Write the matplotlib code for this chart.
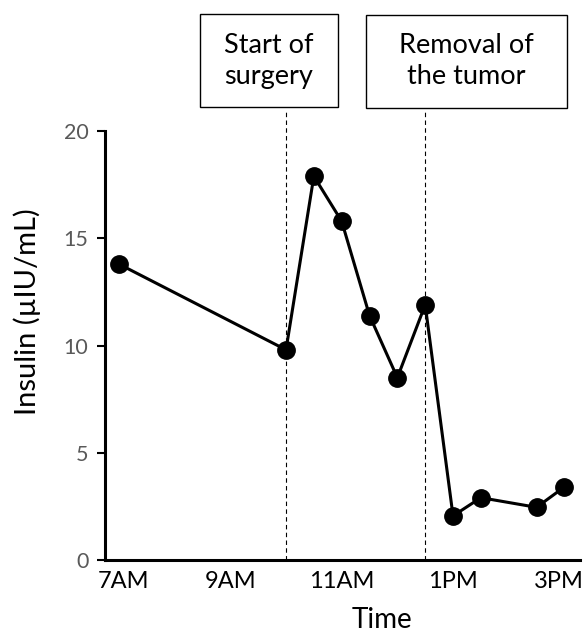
import matplotlib.pyplot as plt
import matplotlib.transforms as mtransforms
from matplotlib.patches import Rectangle

plt.rcParams['font.family'] = ['Lato', 'DejaVu Sans']

# hours of day (decimal) and insulin values
hours = [7.0, 10.0, 10.5, 11.0, 11.5, 12.0, 12.5, 13.0, 13.5, 14.5, 15.0]
insulin = [13.8, 9.8, 17.9, 15.8, 11.4, 8.5, 11.9, 2.05, 2.9, 2.45, 3.4]

tick_hours = [7, 9, 11, 13, 15]
tick_labels = ["7AM", "9AM", "11AM", "1PM", "3PM"]
y_ticks = [0, 5, 10, 15, 20]

events = [10.0, 12.5]
event_labels = ["Start of\nsurgery", "Removal of\nthe tumor"]

fig = plt.figure(figsize=(5.87, 6.34), dpi=100)
ax = fig.add_axes([0.179, 0.117, 0.809, 0.676])

ax.plot(hours, insulin, color="black", lw=2.2, marker="o", ms=12.5, zorder=3)

for h in events:
    ax.plot([h, h], [0, 20.95], color="black", lw=0.8, ls=(0, (4, 3)), clip_on=False, zorder=1)

ax.set_xlim(6.75, 15.28)
ax.set_ylim(0, 20)
ax.set_xticks(tick_hours)
ax.set_xticklabels(tick_labels, fontsize=17)
ax.set_yticks(y_ticks)
ax.set_yticklabels([str(v) for v in y_ticks], fontsize=15.5, color="#595959")
ax.tick_params(axis="x", length=0, pad=8)
ax.tick_params(axis="y", length=6, width=1.5, direction="out", pad=6)

# nudge first/last x labels like the original (keeps 3PM inside the figure)
lbls = ax.get_xticklabels()
lbls[0].set_transform(lbls[0].get_transform() + mtransforms.ScaledTranslation(5 / 100, 0, fig.dpi_scale_trans))
lbls[-1].set_transform(lbls[-1].get_transform() + mtransforms.ScaledTranslation(-6 / 100, 0, fig.dpi_scale_trans))

for side in ["top", "right"]:
    ax.spines[side].set_visible(False)
for side in ["left", "bottom"]:
    ax.spines[side].set_linewidth(2.2)

ax.set_xlabel("Time", fontsize=20)
ax.xaxis.set_label_coords(0.583, -0.11)
ax.set_ylabel("Insulin (µIU/mL)", fontsize=21)
ax.yaxis.set_label_coords(-0.135, 0.578)

# annotation boxes (figure fractions)
boxes = [(0.3407, 0.8312, 0.2351, 0.1467), (0.6235, 0.8297, 0.3424, 0.1467)]
for (x0, y0, w, hgt), lab in zip(boxes, event_labels):
    fig.patches.append(Rectangle((x0, y0), w, hgt, transform=fig.transFigure,
                                 fc="white", ec="black", lw=1.0))
    fig.text(x0 + w / 2, y0 + hgt / 2, lab, ha="center", va="center",
             fontsize=19.5, linespacing=1.3)

fig.savefig("out.png", dpi=100)
